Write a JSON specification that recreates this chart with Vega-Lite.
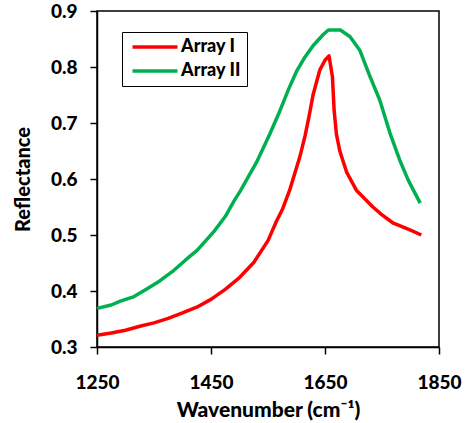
{
  "$schema": "https://vega.github.io/schema/vega-lite/v6.json",
  "autosize": "none",
  "width": 342,
  "height": 336,
  "padding": {"left": 97, "top": 11, "right": 26, "bottom": 76},
  "background": "white",
  "config": {
    "font": "Lato",
    "view": {"stroke": "black", "strokeWidth": 1.5},
    "axis": {"grid": false, "domainColor": "black", "domainWidth": 1.5, "tickColor": "black", "tickWidth": 1.5, "tickSize": 7, "labelFont": "Lato", "labelFontWeight": 900, "labelFontSize": 19, "labelColor": "black", "titleFont": "Lato", "titleFontWeight": 900, "titleColor": "black"}
  },
  "data": {"values": [
    {"w": 1250, "r": 0.321, "s": "Array I"},
    {"w": 1275, "r": 0.325, "s": "Array I"},
    {"w": 1300, "r": 0.330, "s": "Array I"},
    {"w": 1325, "r": 0.337, "s": "Array I"},
    {"w": 1350, "r": 0.343, "s": "Array I"},
    {"w": 1375, "r": 0.351, "s": "Array I"},
    {"w": 1400, "r": 0.361, "s": "Array I"},
    {"w": 1425, "r": 0.371, "s": "Array I"},
    {"w": 1450, "r": 0.385, "s": "Array I"},
    {"w": 1475, "r": 0.403, "s": "Array I"},
    {"w": 1500, "r": 0.424, "s": "Array I"},
    {"w": 1525, "r": 0.451, "s": "Array I"},
    {"w": 1550, "r": 0.490, "s": "Array I"},
    {"w": 1565, "r": 0.525, "s": "Array I"},
    {"w": 1575, "r": 0.545, "s": "Array I"},
    {"w": 1588, "r": 0.580, "s": "Array I"},
    {"w": 1600, "r": 0.620, "s": "Array I"},
    {"w": 1606, "r": 0.640, "s": "Array I"},
    {"w": 1615, "r": 0.677, "s": "Array I"},
    {"w": 1622, "r": 0.712, "s": "Array I"},
    {"w": 1629, "r": 0.750, "s": "Array I"},
    {"w": 1641, "r": 0.795, "s": "Array I"},
    {"w": 1650, "r": 0.812, "s": "Array I"},
    {"w": 1657, "r": 0.820, "s": "Array I"},
    {"w": 1663, "r": 0.783, "s": "Array I"},
    {"w": 1666, "r": 0.723, "s": "Array I"},
    {"w": 1670, "r": 0.680, "s": "Array I"},
    {"w": 1676, "r": 0.650, "s": "Array I"},
    {"w": 1688, "r": 0.612, "s": "Array I"},
    {"w": 1705, "r": 0.580, "s": "Array I"},
    {"w": 1734, "r": 0.550, "s": "Array I"},
    {"w": 1750, "r": 0.536, "s": "Array I"},
    {"w": 1770, "r": 0.521, "s": "Array I"},
    {"w": 1799, "r": 0.509, "s": "Array I"},
    {"w": 1819, "r": 0.500, "s": "Array I"},
    {"w": 1250, "r": 0.369, "s": "Array II"},
    {"w": 1275, "r": 0.375, "s": "Array II"},
    {"w": 1291, "r": 0.382, "s": "Array II"},
    {"w": 1315, "r": 0.390, "s": "Array II"},
    {"w": 1338, "r": 0.404, "s": "Array II"},
    {"w": 1360, "r": 0.418, "s": "Array II"},
    {"w": 1385, "r": 0.437, "s": "Array II"},
    {"w": 1405, "r": 0.455, "s": "Array II"},
    {"w": 1426, "r": 0.473, "s": "Array II"},
    {"w": 1455, "r": 0.506, "s": "Array II"},
    {"w": 1475, "r": 0.533, "s": "Array II"},
    {"w": 1490, "r": 0.560, "s": "Array II"},
    {"w": 1501, "r": 0.578, "s": "Array II"},
    {"w": 1530, "r": 0.630, "s": "Array II"},
    {"w": 1553, "r": 0.680, "s": "Array II"},
    {"w": 1571, "r": 0.722, "s": "Array II"},
    {"w": 1586, "r": 0.760, "s": "Array II"},
    {"w": 1600, "r": 0.792, "s": "Array II"},
    {"w": 1615, "r": 0.818, "s": "Array II"},
    {"w": 1629, "r": 0.838, "s": "Array II"},
    {"w": 1647, "r": 0.858, "s": "Array II"},
    {"w": 1656, "r": 0.866, "s": "Array II"},
    {"w": 1677, "r": 0.866, "s": "Array II"},
    {"w": 1694, "r": 0.854, "s": "Array II"},
    {"w": 1711, "r": 0.830, "s": "Array II"},
    {"w": 1729, "r": 0.783, "s": "Array II"},
    {"w": 1746, "r": 0.741, "s": "Array II"},
    {"w": 1764, "r": 0.682, "s": "Array II"},
    {"w": 1781, "r": 0.634, "s": "Array II"},
    {"w": 1796, "r": 0.598, "s": "Array II"},
    {"w": 1817, "r": 0.557, "s": "Array II"}
  ]},
  "mark": {"type": "line", "strokeWidth": 3.5, "strokeJoin": "round"},
  "encoding": {
    "x": {"field": "w", "type": "quantitative", "scale": {"domain": [1250, 1850], "nice": false},
      "axis": {"values": [1250, 1450, 1650, 1850], "format": "d", "labelPadding": 19, "title": "Wavenumber (cm⁻¹)", "titleFontSize": 21, "titlePadding": 7, "labelFlush": false}},
    "y": {"field": "r", "type": "quantitative", "scale": {"domain": [0.3, 0.9], "nice": false, "zero": false},
      "axis": {"values": [0.3, 0.4, 0.5, 0.6, 0.7, 0.8, 0.9], "format": ".1f", "labelPadding": 13, "title": "Reflectance", "titleFontSize": 20, "titlePadding": 17, "labelFlush": false}},
    "color": {"field": "s", "type": "nominal", "scale": {"domain": ["Array I", "Array II"], "range": ["#FF0000", "#00B050"]},
      "legend": {"title": null, "orient": "none", "legendX": 25, "legendY": 21, "direction": "vertical", "symbolType": "M-1,0H9", "symbolSize": 81, "symbolStrokeWidth": 3.5, "labelFont": "Lato", "labelFontWeight": 900, "labelFontSize": 18, "labelColor": "black", "labelOffset": 35, "strokeColor": "black", "padding": 6, "fillColor": "white", "rowPadding": 6}}
  }
}
